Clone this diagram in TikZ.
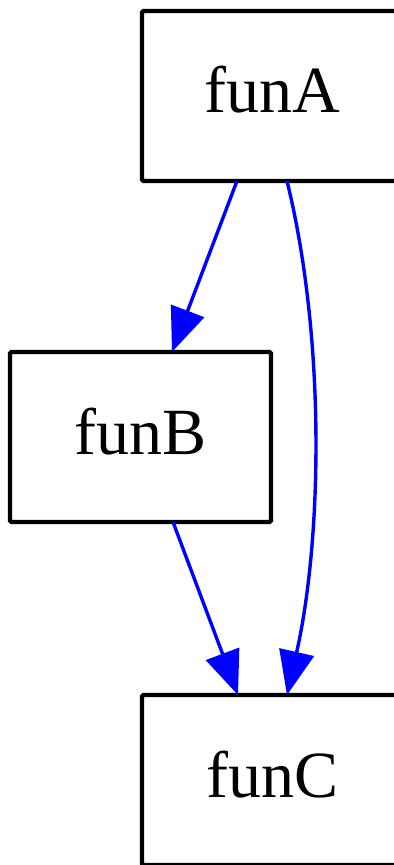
\documentclass[tikz,border=0pt]{standalone}
\usepackage{fontspec}
\setmainfont{Liberation Serif}
\usetikzlibrary{arrows.meta}
\begin{document}
\begin{tikzpicture}[x=0.5pt,y=-0.5pt,
  fbox/.style={draw=black,line width=2.2pt,rounded corners=0.8pt,minimum width=130.5pt,minimum height=85pt,
    inner sep=0pt,outer sep=0pt,font=\fontsize{33pt}{36pt}\selectfont,text height=22pt,text depth=5pt},
  call/.style={draw={rgb,255:red,0;green,0;blue,255},line width=1.7pt,
    -{Triangle[length=22pt,width=17.5pt]},shorten >=0pt}]
\useasboundingbox (0,0) rectangle (394,865);
\clip (0,0) rectangle (394,865);
\node[fbox] (A) at (272.5,96) {funA};
\node[fbox] (B) at (140.5,437) {funB};
\node[fbox] (C) at (272.5,780) {funC};
\draw[call] ([xshift=-17.75pt]A.south) -- ([xshift=15.75pt]B.north);
\draw[call] ([xshift=16.25pt]B.south) -- ([xshift=-17.25pt]C.north);
\draw[call] ([xshift=7.25pt]A.south) .. controls (326,340) and (322,540) .. ([xshift=7.25pt]C.north);
\end{tikzpicture}
\end{document}
